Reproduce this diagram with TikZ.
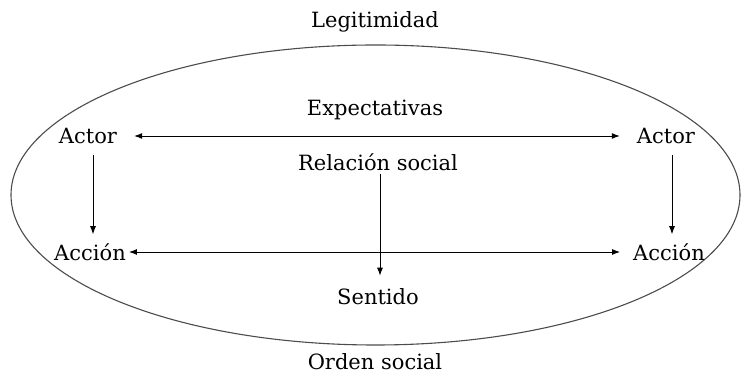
\documentclass[tikz,border=0pt]{standalone}
\usepackage{fontspec}
\setmainfont{DejaVu Serif}
\usetikzlibrary{arrows.meta}
\begin{document}
\begin{tikzpicture}[x=1pt, y=1pt]
\tikzset{ >={Latex[length=8pt, width=6pt]}, concepto/.style={inner sep=3pt, font=\fontsize{21}{25}\selectfont},
  flecha/.style={line width=0.9pt} }

\useasboundingbox (0,0) rectangle (741,379);

%\draw [lightgray, dashed](0,0) grid[step=50] (741,379);

\draw [line width=1.1pt, black!70] (375.5,184) ellipse [x radius=364.5, y radius=150];

\node [concepto] (Leg) at (375,357) {Legitimidad};
\node [concepto] (Exp) at (375,269) {Expectativas};
\node [concepto] (ActI) at (88,243) {Actor};
\node [concepto] (ActD) at (666,243) {Actor};
\node [concepto] (Rel) at (378,217) {Relación social};
\node [concepto] (AccI) at (90,127) {Acción};
\node [concepto] (AccD) at (669,127) {Acción};
\node [concepto] (Sen) at (378,82) {Sentido};
\node [concepto] (Ord) at (375,17) {Orden social};

\draw [flecha, <->, shorten <=14pt, shorten >=14pt] (ActI) -- (ActD);
\draw [flecha, <->, shorten >=10pt] (AccI) -- (AccD);

\draw [flecha, ->, shorten <=8pt, shorten >=6pt] (ActI.south -| 93,0) -- (AccI.north -| 93,0);
\draw [flecha, ->, shorten <=8pt, shorten >=6pt] (ActD.south -| 672,0) -- (AccD.north -| 672,0);
\draw [flecha, ->, shorten >=10pt] (Rel.south -| 380,0) -- (Sen.north -| 380,0);

\end{tikzpicture}
\end{document}
